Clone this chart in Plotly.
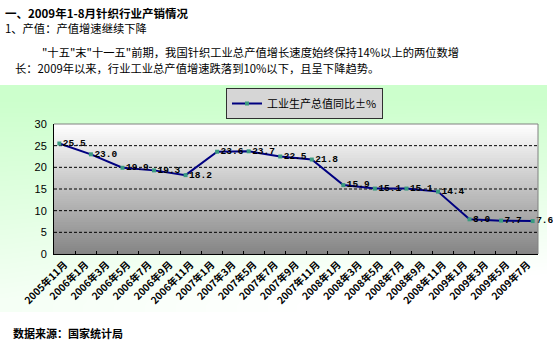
import numpy as np
import plotly.graph_objects as go

# ---------------- data ----------------
categories = ["2005年11月", "2006年1月", "2006年3月", "2006年5月", "2006年7月", "2006年9月",
              "2006年11月", "2007年1月", "2007年3月", "2007年5月", "2007年7月", "2007年9月",
              "2007年11月", "2008年1月", "2008年3月", "2008年5月", "2008年7月", "2008年9月",
              "2008年11月", "2009年1月", "2009年3月", "2009年5月", "2009年7月"]
growth = [25.5, 23.0, 19.9, 19.3, 18.2, 23.6, 23.7, 22.5, 21.8,
          15.9, 15.1, 15.1, 14.4, 8.0, 7.7, 7.6]
series_name = "工业生产总值同比±%"
y_ticks = [0, 5, 10, 15, 20, 25, 30]
grid_levels = [5, 10, 15, 20, 25]

W, H = 553, 353
def px_x(v): return v / W
def px_y(v): return 1 - v / H

# plot area (pixels)
PL, PR, PT, PB = 54, 538, 124, 254
# chart container (pixels)
CL, CR, CT, CB = 0, 547, 85, 312

fig = go.Figure()

# container background gradient (green -> white)
gx = np.linspace(CL - 20, CR + 20, 50)
gy = np.linspace(CT - 20, CB + 20, 50)
X, Y = np.meshgrid(gx, gy)
t = np.clip((Y - 100) / 200.0, 0, 1)
xn = np.clip((X - CL) / (CR - CL), 0, 1)
Z = np.clip(1 - t * (0.8 + 0.35 * xn), 0, 1)
fig.add_trace(go.Heatmap(x=gx, y=gy, z=Z, xaxis="x", yaxis="y", zmin=0, zmax=1,
                         colorscale=[[0, "#ffffff"], [1, "#ccffcc"]], showscale=False,
                         zsmooth="best", hoverinfo="skip"))

# category axis holder
fig.add_trace(go.Scatter(x=categories, y=[None] * len(categories), xaxis="x2", yaxis="y2",
                         mode="lines", showlegend=False, hoverinfo="skip"))

# plot area gradient (white top -> grey bottom)
n = len(growth)
xr = [-0.17, n - 1 + 0.17]
hy = np.linspace(0, 30, 61)
fig.add_trace(go.Heatmap(x=xr, y=hy, z=[[v, v] for v in hy], xaxis="x3", yaxis="y2",
                         zmin=0, zmax=30, colorscale=[[0, "#858585"], [1, "#ffffff"]],
                         showscale=False, hoverinfo="skip"))

# dashed grid lines
for g in grid_levels:
    fig.add_trace(go.Scatter(x=xr, y=[g, g], xaxis="x3", yaxis="y2", mode="lines",
                             line=dict(color="#000000", width=1, dash="3px,2px"),
                             showlegend=False, hoverinfo="skip"))

# data line
fig.add_trace(go.Scatter(x=list(range(n)), y=growth, xaxis="x3", yaxis="y2",
                         mode="lines+markers+text", name=series_name,
                         text=[f"{v:.1f}" for v in growth], textposition="middle right",
                         textfont=dict(family="Liberation Mono", size=9.5, color="#000000", weight="bold"),
                         line=dict(color="#000080", width=2),
                         marker=dict(symbol="square", size=4, color="#3a9a80"),
                         cliponaxis=False))

fig.update_layout(
    width=W, height=H, margin=dict(l=0, r=0, t=0, b=0, autoexpand=False),
    paper_bgcolor="#ffffff", plot_bgcolor="rgba(0,0,0,0)",
    xaxis=dict(domain=[px_x(CL), px_x(CR)], range=[CL, CR], visible=False, fixedrange=True,
               automargin=False),
    yaxis=dict(domain=[px_y(CB), px_y(CT)], range=[CB, CT], visible=False, fixedrange=True,
               automargin=False),
    xaxis2=dict(domain=[px_x(PL), px_x(PR)], anchor="y2", type="category",
                categoryorder="array", categoryarray=categories,
                range=[-0.5, len(categories) - 0.5], automargin=False,
                showline=True, linecolor="#000000", linewidth=1,
                ticks="inside", tickson="boundaries", ticklen=3, tickcolor="#000000",
                tickangle=-45, showgrid=False, zeroline=False,
                tickfont=dict(family="Noto Sans CJK SC", size=10, color="#000000", weight="bold")),
    yaxis2=dict(domain=[px_y(PB), px_y(PT)], anchor="x2", range=[0, 30], automargin=False,
                tickvals=y_ticks, showline=True, linecolor="#000000", linewidth=1,
                showgrid=False, zeroline=False, ticks="", ticklabelstandoff=4,
                tickfont=dict(family="Liberation Sans", size=11, color="#000000")),
    xaxis3=dict(overlaying="x2", anchor="y2", range=xr, visible=False, automargin=False),
    showlegend=True,
    legend=dict(x=px_x(226), y=px_y(88), xanchor="left", yanchor="top",
                bgcolor="#d6d6d6", bordercolor="#303030", borderwidth=1,
                font=dict(family="Noto Sans CJK SC", size=11, color="#000000"),
                itemwidth=30, tracegroupgap=0),
)

# plot area top/right grey border
fig.add_shape(type="line", xref="x2 domain", yref="y2 domain", x0=0, x1=1, y0=1, y1=1,
              line=dict(color="#808080", width=1))
fig.add_shape(type="line", xref="x2 domain", yref="y2 domain", x0=1, x1=1, y0=0, y1=1,
              line=dict(color="#808080", width=1))

texts = [
    ("一、2009年1-8月针织行业产销情况", 3, 13, 11.5, True),
    ("1、产值：产值增速继续下降", 3, 28, 11.3, False),
    ("\"十五\"末\"十一五\"前期，我国针织工业总产值增长速度始终保持14%以上的两位数增", 40, 52, 11.3, False),
    ("长：2009年以来，行业工业总产值增速跌落到10%以下，且呈下降趋势。", 13, 68, 11.3, False),
    ("数据来源：国家统计局", 11, 333, 11, True),
]
for s, x, y, sz, b in texts:
    fig.add_annotation(text=s, xref="paper", yref="paper", x=px_x(x), y=px_y(y),
                       xanchor="left", yanchor="middle", showarrow=False,
                       font=dict(family="Noto Sans CJK SC", size=sz, color="#000000",
                                 weight="bold" if b else "normal"))

fig.write_html("out.html")
